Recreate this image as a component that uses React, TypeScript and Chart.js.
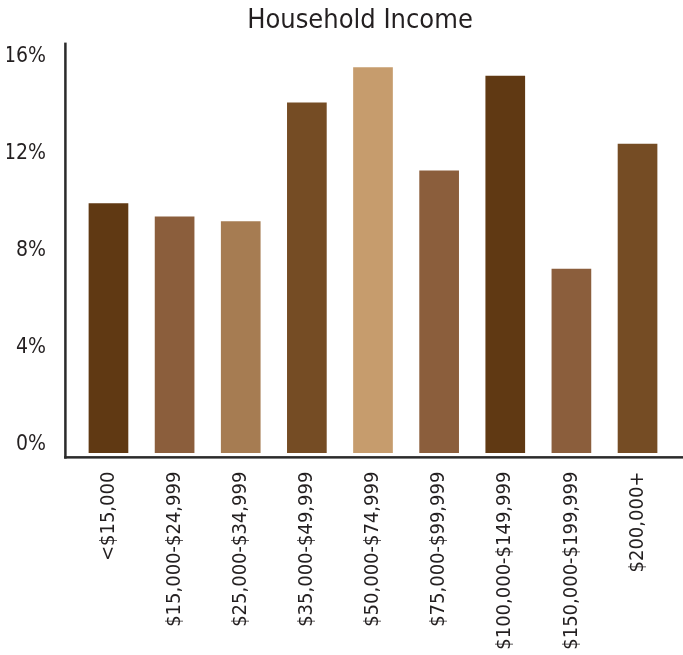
import React, { useEffect, useRef } from "react";
import { Chart, registerables } from "chart.js";

Chart.register(...registerables);

const TITLE = "Household Income";
const categories = [
  "<$15,000",
  "$15,000-$24,999",
  "$25,000-$34,999",
  "$35,000-$49,999",
  "$50,000-$74,999",
  "$75,000-$99,999",
  "$100,000-$149,999",
  "$150,000-$199,999",
  "$200,000+",
];
const shares = [10.3, 9.75, 9.55, 14.45, 15.9, 11.65, 15.55, 7.6, 12.75];
const barColors = [
  "#603913",
  "#8B5E3C",
  "#A67C52",
  "#754C24",
  "#C69C6D",
  "#8B5E3C",
  "#603913",
  "#8B5E3C",
  "#754C24",
];
const yTickValues = [0, 4, 8, 12, 16];

const FONT = "'Liberation Sans Narrow', 'DejaVu Sans Condensed', 'Arial Narrow', sans-serif";
const INK = "#231f20";

const axisLines = {
  id: "axisLines",
  afterDraw(chart: any) {
    const { ctx, chartArea } = chart;
    const x0 = chartArea.left - 10;
    ctx.save();
    ctx.fillStyle = "#2b2b2b";
    ctx.fillRect(x0 - 1.25, chartArea.top, 2.5, chartArea.bottom - chartArea.top + 2);
    ctx.fillRect(x0 - 1.25, chartArea.bottom - 0.5, chart.width - x0 + 2, 2.5);
    ctx.restore();
  },
};

export default function App() {
  const ref = useRef<HTMLCanvasElement | null>(null);
  useEffect(() => {
    if (!ref.current) return;
    const chart = new Chart(ref.current, {
      type: "bar",
      data: {
        labels: categories,
        datasets: [
          {
            data: shares,
            backgroundColor: barColors,
            borderWidth: 0,
            categoryPercentage: 0.8,
            barPercentage: 0.75,
            yAxisID: "y",
          },
        ],
      },
      options: {
        animation: false,
        responsive: false,
        maintainAspectRatio: false,
        devicePixelRatio: 1,
        layout: { padding: { left: 7, right: 7, top: 0, bottom: 0 } },
        plugins: {
          legend: { display: false },
          tooltip: { enabled: false },
          title: {
            display: true,
            text: TITLE,
            color: INK,
            font: { family: FONT, size: 27, weight: "normal", lineHeight: 1.2 },
            padding: { top: 5, bottom: 5.2 },
          },
        },
        scales: {
          x: {
            grid: { display: false, drawTicks: false },
            border: { display: false },
            afterFit: (scale: any) => {
              scale.height = 198.4;
            },
            ticks: {
              autoSkip: false,
              maxRotation: 90,
              minRotation: 90,
              padding: 15,
              color: INK,
              font: { family: FONT, size: 20 },
            },
          },
          y: {
            min: -0.15,
            max: 16.92,
            grid: { display: false, drawTicks: false },
            border: { display: false },
            afterBuildTicks: (scale: any) => {
              scale.ticks = yTickValues.map((v) => ({ value: v }));
            },
            afterFit: (scale: any) => {
              scale.width = 68.4;
            },
            ticks: {
              padding: 29.4,
              labelOffset: -8,
              color: INK,
              font: { family: FONT, size: 21 },
              callback: (v: any) => `${v}%`,
            },
          },
          yRight: {
            position: "right",
            display: true,
            min: 0,
            max: 1,
            grid: { display: false, drawTicks: false },
            border: { display: false },
            ticks: { display: false },
            afterFit: (scale: any) => {
              scale.width = 42.4;
            },
          },
        },
      },
      plugins: [axisLines],
    });
    return () => chart.destroy();
  }, []);
  return (
    <div
      style={{
        position: "fixed",
        left: 0,
        top: 0,
        width: 683,
        height: 655,
        overflow: "hidden",
        background: "#fff",
      }}
    >
      <canvas ref={ref} width={720} height={655} style={{ display: "block" }} />
    </div>
  );
}
